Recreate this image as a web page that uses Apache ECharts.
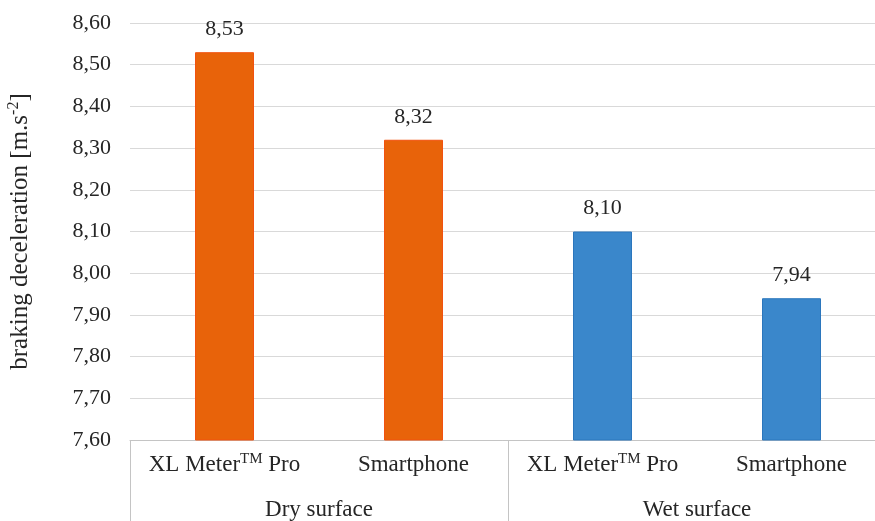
<!DOCTYPE html>
<html>
<head>
<meta charset="utf-8">
<script src="https://cdn.jsdelivr.net/npm/echarts@6/dist/echarts.min.js"></script>
<style>
html,body{margin:0;padding:0;background:#fff;}
#chart{width:875px;height:521px;}
</style>
</head>
<body>
<div id="chart"></div>
<script>
var categories = ['XL MeterTM Pro', 'Smartphone', 'XL MeterTM Pro', 'Smartphone'];
var groups = ['Dry surface', 'Wet surface'];
var values = [8.53, 8.32, 8.10, 7.94];
var groupOfBar = [0, 0, 1, 1];
var yMin = 7.6, yMax = 8.6, yStep = 0.1;
var yTitle = 'braking deceleration [m.s{sup|-2}]';

var FONT = '"Liberation Serif", "Times New Roman", serif';
var colors = [
  {color: '#E8630A', borderColor: '#F2520F'},
  {color: '#3A87CB', borderColor: '#2B76BD'}
];
var fmt = function (v) { return Number(v).toFixed(2).replace('.', ','); };

var chart = echarts.init(document.getElementById('chart'), null, {renderer: 'canvas'});
var option = {
  animation: false,
  backgroundColor: '#ffffff',
  grid: {left: 130, width: 756, top: 23, height: 417, containLabel: false, outerBoundsMode: 'none'},
  xAxis: [
    {
      type: 'category',
      position: 'bottom',
      data: categories,
      axisLine: {show: true, lineStyle: {color: '#c4c4c4', width: 1}},
      axisTick: {show: false},
      axisLabel: {
        interval: 0,
        margin: 12,
        fontFamily: FONT,
        fontSize: 23,
        color: '#262626',
        formatter: function (v) {
          if (v.indexOf('TM') >= 0) {
            var p = v.split('TM');
            return '{n|' + p[0] + '}{sup|TM}{n|' + p[1] + '}';
          }
          return '{n|' + v + '}';
        },
        rich: {
          n: {fontFamily: FONT, fontSize: 23, color: '#262626', lineHeight: 26},
          sup: {fontFamily: FONT, fontSize: 15, color: '#262626', verticalAlign: 'top', lineHeight: 26, padding: [0, 0, 11, 0]}
        }
      }
    },
    {
      type: 'category',
      position: 'bottom',
      offset: 0,
      data: groups,
      axisLine: {show: false},
      axisTick: {show: true, length: 81, interval: 0, lineStyle: {color: '#c4c4c4', width: 1}},
      axisLabel: {interval: 0, margin: 58, fontFamily: FONT, fontSize: 23, color: '#262626'}
    }
  ],
  yAxis: {
    type: 'value',
    min: yMin,
    max: yMax,
    interval: yStep,
    axisLine: {show: false},
    axisTick: {show: false},
    splitLine: {show: true, lineStyle: {color: '#d9d9d9', width: 1}},
    axisLabel: {margin: 19, fontFamily: FONT, fontSize: 22, color: '#262626', formatter: fmt},
    name: yTitle,
    nameLocation: 'middle',
    nameRotate: 90,
    nameGap: 96,
    nameTextStyle: {
      fontFamily: FONT, fontSize: 25, color: '#262626',
      rich: {
        sup: {fontFamily: FONT, fontSize: 16, color: '#262626', verticalAlign: 'top', padding: [0, 0, 12, 0]}
      }
    }
  },
  series: [{
    type: 'bar',
    xAxisIndex: 0,
    barWidth: 59,
    data: values.map(function (v, i) {
      return {value: v, itemStyle: {color: colors[groupOfBar[i]].color, borderColor: colors[groupOfBar[i]].borderColor, borderWidth: 1}};
    }),
    label: {
      show: true,
      position: 'top',
      distance: 12,
      fontFamily: FONT,
      fontSize: 22,
      color: '#262626',
      formatter: function (p) { return fmt(p.value); }
    }
  }]
};
chart.setOption(option);
</script>
</body>
</html>
